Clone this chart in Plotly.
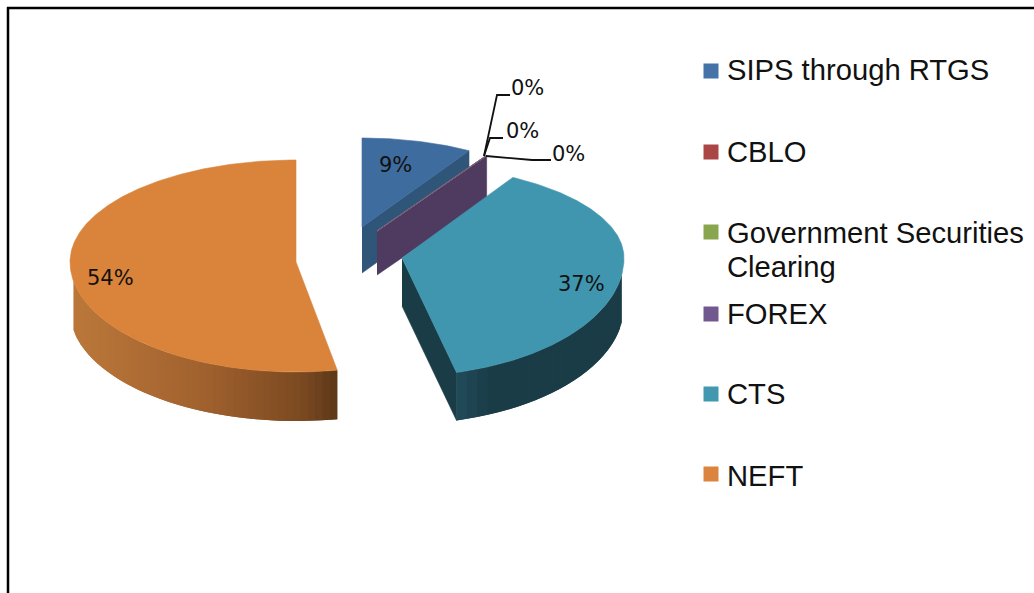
import numpy as np
import plotly.graph_objects as go

# ---- data -------------------------------------------------------------
categories = ["SIPS through RTGS", "CBLO", "Government Securities Clearing", "FOREX", "CTS", "NEFT"]
values = [8.6, 0.01, 0.02, 0.02, 37.4, 53.95]
legend_lines = [["SIPS through RTGS"], ["CBLO"], ["Government Securities", "Clearing"], ["FOREX"], ["CTS"], ["NEFT"]]
top_colors = ["#3f6c9e", "#a04340", "#84a04a", "#71588f", "#4096ae", "#d9833b"]
legend_colors = ["#4572a7", "#aa4643", "#89a54e", "#71588f", "#4198af", "#db843d"]
wall_colors = ["#2f5579", "#7a302e", "#5f7636", "#4f3a60", "#1a3c47", "#a8642c"]

# ---- projected-pie layout (pixels of the picture) ---------------------
geom = {
    0: dict(cx=362, cy=227, rx=208, rt=89, rb=89, d=46, a0=0.0),
    1: dict(cx=377, cy=231, rx=212, rt=88, rb=88, d=44, a0=0.0),
    2: dict(cx=377, cy=231, rx=212, rt=88, rb=88, d=44, a0=0.0),
    3: dict(cx=377, cy=231, rx=212, rt=88, rb=88, d=44, a0=0.0),
    4: dict(cx=402, cy=258, rx=222, rt=93, rb=118, d=48, a0=-1.2),
    5: dict(cx=296, cy=262, rx=226, rt=102, rb=110, d=49, a0=3.7),
}
label_pos = [(395, 165), (527, 88), (522, 131), (568, 154), (581, 284), (110, 278)]
legend_y = [(71, [70]), (152, [152]), (232, [233, 267]), (314, [314]), (394, [394]), (474, [476])]
leaders = [
    ([484, 497, 510], [156, 95, 95]),
    ([484, 490, 503], [156, 138, 138]),
    ([486, 532, 551], [156, 160, 160]),
]
neft_rim_x = [72, 200, 300, 336]
neft_rim_rgb = [(0xbb, 0x78, 0x3b), (0xa2, 0x62, 0x2e), (0x7c, 0x4a, 0x22), (0x5e, 0x38, 0x18)]
cts_rim_x = [456, 490, 620]
cts_rim_rgb = [(0x20, 0x4c, 0x59), (0x1a, 0x3c, 0x47), (0x1a, 0x3c, 0x47)]


def pt(g, deg, drop=0.0):
    t = np.radians(deg)
    s, c = np.sin(t), np.cos(t)
    ry = np.where(c >= 0, g["rt"], g["rb"])
    return g["cx"] + g["rx"] * s, g["cy"] - ry * c + drop


def poly(fig, x, y, color, lw=0.6):
    fig.add_trace(go.Scatter(x=list(x), y=list(y), mode="lines", fill="toself", fillcolor=color,
                             line=dict(color=color, width=lw), hoverinfo="skip", showlegend=False))


def rim(fig, g, a, b, xs, rgbs, n=40):
    # bands overlap the next one, so no antialiased seams show between them
    edges = np.linspace(a, b, n + 1)
    for i in range(n):
        d = np.linspace(edges[i], edges[min(i + 2, n)], 6)
        x1, y1 = pt(g, d)
        x2, y2 = pt(g, d[::-1], g["d"])
        xm = float(pt(g, (edges[i] + edges[i + 1]) / 2)[0])
        col = [round(float(np.interp(xm, xs, [c[k] for c in rgbs]))) for k in range(3)]
        poly(fig, np.r_[x1, x2], np.r_[y1, y2], "rgb(%d,%d,%d)" % tuple(col), 0)


def cut_wall(fig, g, deg, color):
    x, y = pt(g, deg)
    poly(fig, [g["cx"], x, x, g["cx"]], [g["cy"], y, y + g["d"], g["cy"] + g["d"]], color)


def top(fig, g, a, b, color, lw=0.6):
    d = np.linspace(a, b, max(3, int(abs(b - a) * 2)))
    x, y = pt(g, d)
    poly(fig, np.r_[g["cx"], x, g["cx"]], np.r_[g["cy"], y, g["cy"]], color, lw)


fig = go.Figure()
cum = np.cumsum([0] + values) * 3.6
starts, ends = cum[:-1], cum[1:]

# SIPS
cut_wall(fig, geom[0], ends[0], wall_colors[0])
top(fig, geom[0], starts[0], ends[0], top_colors[0])
# near-zero slices
cut_wall(fig, geom[3], ends[3], wall_colors[3])
for i in (1, 2, 3):
    top(fig, geom[i], starts[i], ends[i], top_colors[i], 0.8)
# CTS
g = geom[4]
cut_wall(fig, g, ends[4], wall_colors[4])
rim(fig, g, 98, ends[4], cts_rim_x, cts_rim_rgb, 24)
top(fig, g, starts[4] + g["a0"], ends[4], top_colors[4])
# NEFT
g = geom[5]
s5 = starts[5] + g["a0"]
rim(fig, g, 260, s5, neft_rim_x, neft_rim_rgb, 48)
top(fig, g, s5, ends[5], top_colors[5])

# leader lines
for lx, ly in leaders:
    fig.add_trace(go.Scatter(x=lx, y=ly, mode="lines", line=dict(color="#111111", width=1.8),
                             hoverinfo="skip", showlegend=False))

annots = []
# data labels
for v, (x, y) in zip(values, label_pos):
    annots.append(dict(x=x, y=y, text=f"{v:.0f}%", showarrow=False, xanchor="center", yanchor="middle",
                       font=dict(family="DejaVu Sans", size=21, color="#111111")))
# legend
fig.add_trace(go.Scatter(x=[711] * 6, y=[p[0] for p in legend_y], mode="markers",
                         marker=dict(symbol="square", size=15, color=legend_colors, line=dict(width=0)),
                         hoverinfo="skip", showlegend=False))
for lines, (_, ys) in zip(legend_lines, legend_y):
    for t, y in zip(lines, ys):
        annots.append(dict(x=725, y=y, text=t, showarrow=False, xanchor="left", yanchor="middle",
                           font=dict(family="Liberation Sans", size=29.2, color="#111111")))

fig.update_layout(
    width=1034, height=593, margin=dict(l=0, r=0, t=0, b=0),
    paper_bgcolor="white", plot_bgcolor="white", showlegend=False,
    xaxis=dict(range=[0, 1034], visible=False, fixedrange=True),
    yaxis=dict(range=[593, 0], visible=False, fixedrange=True),
    annotations=annots,
    shapes=[
        dict(type="line", x0=8, x1=8, y0=7, y1=593, line=dict(color="black", width=2.5)),
        dict(type="line", x0=7, x1=1034, y0=8, y1=8, line=dict(color="black", width=2.5)),
    ],
)
fig.write_html("out.html", config={"displayModeBar": False},
               post_script="document.body.style.margin='0';document.documentElement.style.overflow='hidden';")
